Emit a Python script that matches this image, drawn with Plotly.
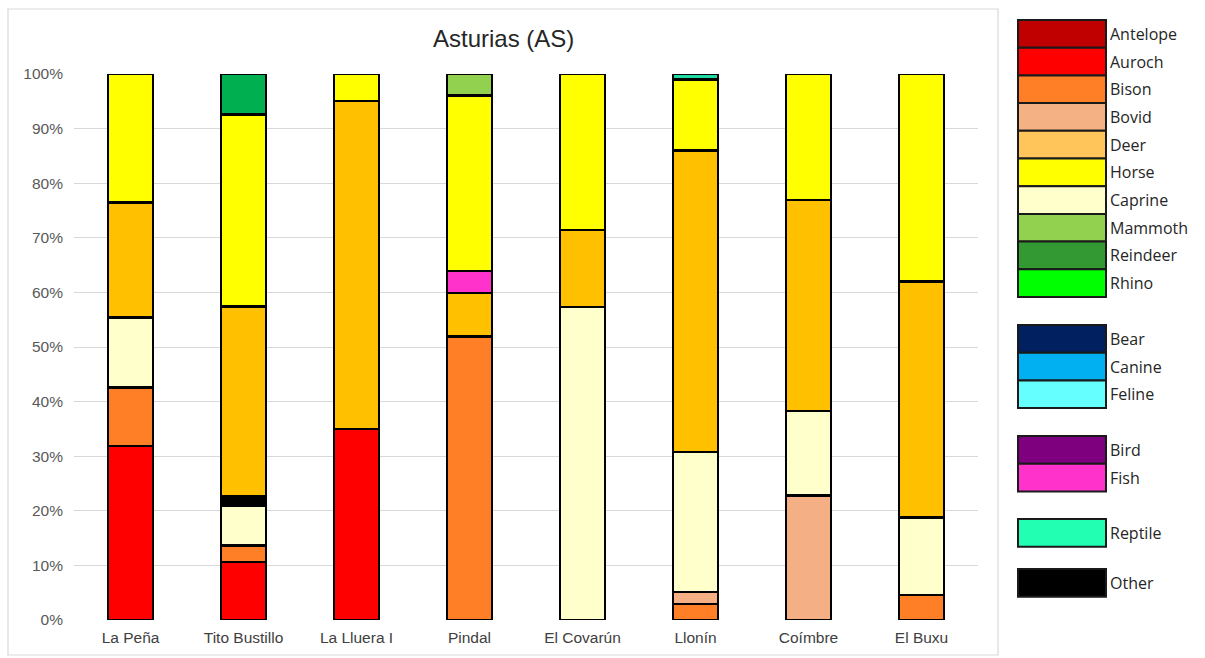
import plotly.graph_objects as go

# Sites along the x axis
sites = ["La Peña", "Tito Bustillo", "La Lluera I", "Pindal",
         "El Covarún", "Llonín", "Coímbre", "El Buxu"]

# Share of each animal (%) per site; None = absent
auroch   = [31.9, 10.6, 35.0, None, None, None, None, None]
bison    = [10.7, 3.0, None, 51.9, None, 2.9, None, 4.6]
bovid    = [None, None, None, None, None, 2.2, 22.8, None]
caprine  = [12.8, 7.3, None, None, 57.3, 25.7, 15.5, 14.2]
other    = [None, 1.8, None, None, None, None, None, None]
deer     = [21.1, 34.7, 60.1, 8.0, 14.1, 55.2, 38.6, 43.2]
fish     = [None, None, None, 4.0, None, None, None, None]
horse    = [23.5, 35.2, 4.9, 32.2, 28.6, 13.0, 23.1, 38.0]
mammoth  = [None, None, None, 3.9, None, None, None, None]
reindeer = [None, 7.4, None, None, None, None, None, None]
reptile  = [None, None, None, None, None, 1.0, None, None]

y_ticks = [0, 10, 20, 30, 40, 50, 60, 70, 80, 90, 100]

# Stacking order, bottom to top
series = [
    ("Auroch", auroch, "#FF0000"),
    ("Bison", bison, "#FF7F27"),
    ("Bovid", bovid, "#F4B084"),
    ("Caprine", caprine, "#FFFFCC"),
    ("Other", other, "#000000"),
    ("Deer", deer, "#FFC000"),
    ("Fish", fish, "#FF33CC"),
    ("Horse", horse, "#FFFF00"),
    ("Mammoth", mammoth, "#92D050"),
    ("Reindeer", reindeer, "#00B050"),
    ("Reptile", reptile, "#1FD8A4"),
]

# Key groups drawn at the right side
legend_groups = [
    [("Antelope", "#C00000"), ("Auroch", "#FF0000"), ("Bison", "#FF7F27"),
     ("Bovid", "#F4B183"), ("Deer", "#FFC55A"), ("Horse", "#FFFF00"),
     ("Caprine", "#FFFFCC"), ("Mammoth", "#92D050"), ("Reindeer", "#339933"),
     ("Rhino", "#00FF00")],
    [("Bear", "#002060"), ("Canine", "#00B0F0"), ("Feline", "#66FFFF")],
    [("Bird", "#7F007F"), ("Fish", "#FF33CC")],
    [("Reptile", "#22FFB2")],
    [("Other", "#000000")],
]
group_tops = [20, 325, 436, 519, 569]

W, H = 1205, 658
L, R, T, B = 74, 227, 74, 38
PW, PH = W - L - R, H - T - B


def px(x):
    return (x - L) / PW


def py(y):
    return (H - B - y) / PH


fig = go.Figure()
for name, vals, color in series:
    fig.add_trace(go.Bar(
        x=sites, y=vals, name=name,
        marker=dict(color=color, line=dict(color="#000000", width=2.5)),
        showlegend=False,
    ))

shapes = [
    # outer chart frame
    dict(type="rect", xref="paper", yref="paper",
         x0=px(8), x1=px(998), y0=py(655), y1=py(9),
         line=dict(color="#D9D9D9", width=1.2), fillcolor="rgba(0,0,0,0)",
         layer="below"),
]
annotations = [
    dict(text="Asturias (AS)", xref="paper", yref="paper",
         x=px(503), y=py(38), showarrow=False,
         font=dict(family="Liberation Sans, Arial", size=24, color="#262626"),
         xanchor="center", yanchor="middle"),
]

row_h = 27.7
for top, group in zip(group_tops, legend_groups):
    for i, (label, color) in enumerate(group):
        y0 = top + i * row_h
        y1 = y0 + row_h
        shapes.append(dict(
            type="rect", xref="paper", yref="paper",
            x0=px(1018), x1=px(1106), y0=py(y1), y1=py(y0),
            fillcolor=color, line=dict(color="#1A1A1A", width=2)))
        annotations.append(dict(
            text=label, xref="paper", yref="paper",
            x=px(1108), y=py((y0 + y1) / 2), showarrow=False,
            xanchor="left", yanchor="middle",
            font=dict(family="Open Sans", size=16, color="#262626")))

fig.update_layout(
    width=W, height=H,
    margin=dict(l=L, r=R, t=T, b=B),
    barmode="stack", bargap=0.6,
    paper_bgcolor="white", plot_bgcolor="white",
    shapes=shapes, annotations=annotations,
    xaxis=dict(
        showline=False, ticks="", showgrid=False,
        ticklabelstandoff=6,
        tickfont=dict(family="Liberation Sans, Arial", size=15.5, color="#404040"),
    ),
    yaxis=dict(
        range=[0, 100], tickvals=y_ticks,
        ticktext=[f"{v}%" for v in y_ticks],
        showgrid=True, gridcolor="#D9D9D9", gridwidth=1,
        zeroline=False, showline=False, ticks="",
        ticklabelstandoff=10,
        tickfont=dict(family="Liberation Sans, Arial", size=15.5, color="#595959"),
    ),
)

fig.write_html("out.html")
